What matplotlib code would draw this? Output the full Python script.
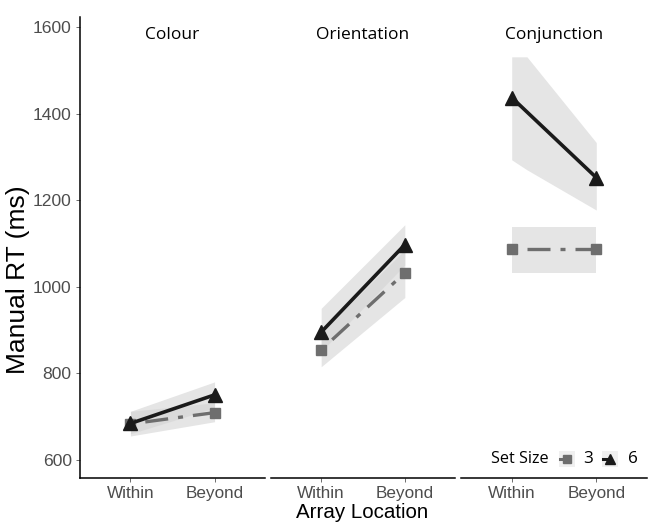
import numpy as np
import matplotlib
matplotlib.use("Agg")
import matplotlib.pyplot as plt
from matplotlib.lines import Line2D
from matplotlib.patches import Rectangle

# data
panels = ["Colour", "Orientation", "Conjunction"]
locations = ["Within", "Beyond"]

rt_3 = [[683, 709], [854, 1032], [1088, 1088]]
rt_6 = [[684, 750], [895, 1097], [1437, 1252]]

# ribbons (x positions, lower, upper)
rib_3_x = [[1, 2], [1, 2], [1, 2]]
rib_3_lo = [[655, 688], [815, 975], [1032, 1032]]
rib_3_hi = [[712, 732], [895, 1085], [1139, 1139]]
rib_6_x = [[1, 2], [1, 2], [1, 1.18, 2]]
rib_6_lo = [[660, 720], [850, 1050], [1293, 1270, 1177]]
rib_6_hi = [[712, 780], [950, 1143], [1531, 1531, 1333]]

yticks = [600, 800, 1000, 1200, 1400, 1600]
legend_labels = ["3", "6"]

W, H = 649, 522
fig = plt.figure(figsize=(W / 100, H / 100), dpi=100)

txt_grey = "#4d4d4d"
fill_c = "#d4d4d4"
dark = "#1a1a1a"
grey = "#6e6e6e"

lefts = [80, 271, 461]
rights = [265, 455, 647]
top_px, bot_px = 17, 478

axes = []
for i, name in enumerate(panels):
    ax = fig.add_axes([lefts[i] / W, 1 - bot_px / H,
                       (rights[i] - lefts[i]) / W, (bot_px - top_px) / H])
    axes.append(ax)
    x = np.arange(1, len(locations) + 1)

    ax.fill_between(rib_3_x[i], rib_3_lo[i], rib_3_hi[i], color=fill_c,
                    alpha=0.6, lw=0, zorder=1)
    ax.fill_between(rib_6_x[i], rib_6_lo[i], rib_6_hi[i], color=fill_c,
                    alpha=0.6, lw=0, zorder=1)

    l3, = ax.plot(x, rt_3[i], color=grey, lw=2.4, marker="s", ms=7.5,
                  dash_capstyle="butt", zorder=3)
    l3.set_dashes([1.5, 3.0, 6.9, 3.0])
    ax.plot(x, rt_6[i], color=dark, lw=2.6, marker="^", ms=10, zorder=4)

    ax.set_xlim(0.4, 2.6)
    ax.set_ylim(558, 1623)
    ax.set_xticks(x)
    ax.set_xticklabels(locations, fontsize=12.3, color=txt_grey,
                       family="Liberation Sans")
    ax.tick_params(axis="x", length=3, width=0.6, color="#555555", pad=3)

    for s in ["top", "right"]:
        ax.spines[s].set_visible(False)
    ax.spines["bottom"].set_linewidth(1.1)
    ax.spines["bottom"].set_color("black")

    if i == 0:
        ax.set_yticks(yticks)
        ax.set_yticklabels([str(v) for v in yticks], fontsize=12.6,
                           color=txt_grey, family="Liberation Sans")
        ax.tick_params(axis="y", length=3, width=0.6, color="#555555", pad=3)
        ax.spines["left"].set_linewidth(1.1)
        ax.spines["left"].set_color("black")
    else:
        ax.spines["left"].set_visible(False)
        ax.set_yticks([])

    ax.text(0.5, 0.96, name, transform=ax.transAxes, ha="center",
            va="center", fontsize=12.5, family="Open Sans")
    ax.patch.set_alpha(0)

fig.text(18 / W, 1 - 280 / H, "Manual RT (ms)", rotation=90, ha="center",
         va="center", fontsize=19, family="Liberation Sans")
fig.text(362 / W, 1 - 512 / H, "Array Location", ha="center", va="center",
         fontsize=14.8, family="Liberation Sans")

# legend, drawn by hand to mimic the ggplot layout
ly = 1 - 459 / H
fig.text(520 / W, ly, "Set Size", ha="center", va="center",
         fontsize=11.6, family="Open Sans")
key_x = [567, 610]
text_x = [588, 633]
markers = ["s", "^"]
colors = [grey, dark]
for k in range(2):
    fig.add_artist(Rectangle(((key_x[k] - 8) / W, ly - 8 / H), 16 / W, 16 / H,
                             transform=fig.transFigure, facecolor="#f0f0f0",
                             edgecolor="none"))
    fig.add_artist(Line2D([(key_x[k] - 7) / W, key_x[k] / W], [ly, ly],
                          transform=fig.transFigure, color=colors[k], lw=2.2))
    fig.add_artist(Line2D([key_x[k] / W], [ly], transform=fig.transFigure,
                          color=colors[k], marker=markers[k],
                          ms=6 if k == 0 else 7, ls="none"))
    fig.text(text_x[k] / W, ly, legend_labels[k], ha="center", va="center",
             fontsize=12.3, family="Open Sans")

fig.savefig("out.png", dpi=100, facecolor="white")
